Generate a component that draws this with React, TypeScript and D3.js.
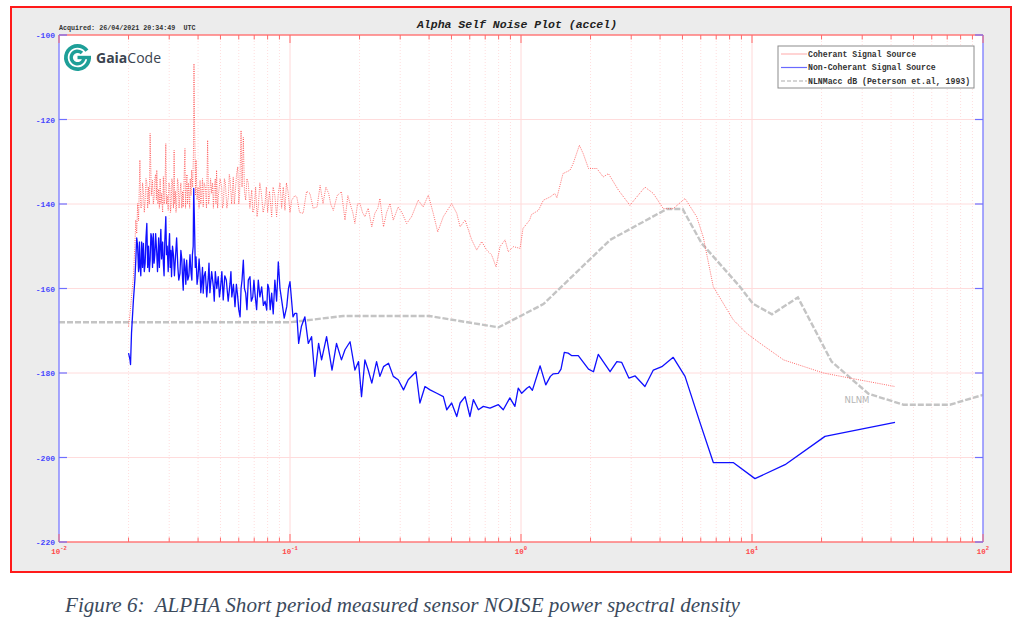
import React, { useEffect, useRef } from 'react';
import * as d3 from 'd3';

// frequency (Hz), level (dB)
const coherent: [number, number][] = [
    [0.0200, -169.0], [0.0203, -165.9], [0.0206, -162.0], [0.0210, -157.2], [0.0213, -150.0],
    [0.0215, -143.8], [0.0217, -147.0], [0.0219, -139.9], [0.0221, -144.0], [0.0224, -129.6],
    [0.0226, -141.0], [0.0228, -140.7], [0.0230, -135.0], [0.0232, -137.0], [0.0234, -142.0],
    [0.0236, -139.1], [0.0238, -134.0], [0.0240, -135.0], [0.0242, -141.0], [0.0244, -136.0],
    [0.0246, -140.0], [0.0248, -123.3], [0.0251, -138.0], [0.0254, -134.4], [0.0256, -140.0],
    [0.0258, -138.5], [0.0260, -134.0], [0.0262, -133.0], [0.0264, -139.0], [0.0265, -132.0],
    [0.0268, -140.0], [0.0270, -136.5], [0.0272, -141.0], [0.0274, -134.0], [0.0276, -140.0],
    [0.0278, -137.5], [0.0281, -142.0], [0.0283, -133.5], [0.0285, -140.0], [0.0287, -139.0],
    [0.0290, -125.7], [0.0292, -140.0], [0.0294, -138.0], [0.0297, -141.5], [0.0299, -135.0],
    [0.0302, -136.0], [0.0304, -142.0], [0.0306, -140.0], [0.0308, -134.0], [0.0310, -135.0],
    [0.0313, -141.0], [0.0315, -127.3], [0.0317, -140.0], [0.0319, -137.0], [0.0321, -142.0],
    [0.0323, -139.9], [0.0326, -134.0], [0.0328, -135.0], [0.0331, -141.0], [0.0334, -137.5],
    [0.0337, -135.0], [0.0340, -141.0], [0.0343, -137.0], [0.0345, -140.7], [0.0351, -126.9],
    [0.0353, -141.0], [0.0355, -137.0], [0.0358, -133.0], [0.0360, -140.0], [0.0363, -135.0],
    [0.0365, -137.5], [0.0368, -141.0], [0.0370, -134.0], [0.0373, -138.0], [0.0375, -132.0],
    [0.0379, -136.0], [0.0382, -128.0], [0.0384, -106.8], [0.0386, -120.0], [0.0388, -128.0],
    [0.0390, -138.0], [0.0392, -129.6], [0.0396, -139.0], [0.0400, -136.0], [0.0404, -141.0],
    [0.0408, -134.4], [0.0411, -140.0], [0.0414, -138.0], [0.0418, -134.0], [0.0421, -140.7],
    [0.0425, -135.0], [0.0430, -136.0], [0.0435, -141.0], [0.0440, -124.9], [0.0444, -140.0],
    [0.0449, -138.0], [0.0453, -134.0], [0.0458, -137.5], [0.0462, -135.0], [0.0466, -141.0],
    [0.0470, -136.0], [0.0475, -134.0], [0.0478, -140.0], [0.0481, -132.0], [0.0486, -141.0],
    [0.0490, -138.0], [0.0498, -134.0], [0.0506, -136.0], [0.0510, -141.0], [0.0515, -140.0],
    [0.0520, -134.0], [0.0525, -135.0], [0.0533, -141.0], [0.0541, -138.3], [0.0546, -133.0],
    [0.0550, -134.0], [0.0559, -140.0], [0.0568, -133.6], [0.0574, -140.0], [0.0580, -137.0],
    [0.0587, -133.0], [0.0594, -131.2], [0.0600, -140.0], [0.0605, -138.0], [0.0614, -122.6],
    [0.0620, -136.0], [0.0628, -124.2], [0.0635, -137.0], [0.0643, -139.1], [0.0651, -134.0],
    [0.0660, -135.0], [0.0670, -141.0], [0.0683, -136.7], [0.0690, -142.0], [0.0700, -141.0],
    [0.0710, -136.0], [0.0720, -143.0], [0.0729, -140.7], [0.0740, -135.0], [0.0750, -137.0],
    [0.0765, -142.0], [0.0780, -139.9], [0.0790, -136.0], [0.0800, -142.0], [0.0815, -137.0],
    [0.0833, -143.0], [0.0845, -136.0], [0.0860, -138.0], [0.0875, -143.0], [0.0890, -137.5],
    [0.0905, -135.0], [0.0920, -141.0], [0.0935, -136.0], [0.0951, -141.5], [0.0965, -135.0],
    [0.0980, -137.0], [0.1000, -142.0], [0.1017, -139.1],
    [0.105, -138.0], [0.107, -138.3], [0.110, -142.0], [0.114, -142.2], [0.118, -137.0],
    [0.122, -137.5], [0.126, -141.0], [0.131, -140.7], [0.135, -135.6], [0.139, -139.9],
    [0.143, -136.0], [0.147, -137.5], [0.150, -140.0], [0.154, -141.5], [0.160, -138.0],
    [0.167, -137.1], [0.173, -143.8], [0.178, -138.0], [0.182, -139.9], [0.187, -142.0],
    [0.191, -144.6], [0.196, -140.0], [0.201, -139.9], [0.206, -142.0], [0.211, -143.0],
    [0.218, -141.0], [0.226, -145.4], [0.233, -142.2], [0.240, -141.0], [0.245, -138.7],
    [0.254, -145.4], [0.262, -142.0], [0.271, -139.9], [0.280, -143.8], [0.294, -140.7],
    [0.305, -142.0], [0.320, -144.6], [0.336, -143.0], [0.359, -139.1], [0.377, -140.7],
    [0.397, -137.9], [0.417, -142.2], [0.436, -146.6], [0.461, -143.0], [0.501, -139.9],
    [0.527, -142.2], [0.545, -145.4], [0.573, -143.8], [0.612, -148.5], [0.643, -150.9],
    [0.676, -148.9], [0.710, -150.9], [0.747, -152.1], [0.780, -154.9], [0.811, -150.1],
    [0.853, -148.5], [0.881, -151.3], [0.927, -150.1], [0.991, -150.5], [1.02, -145.8],
    [1.09, -143.8], [1.11, -142.5], [1.19, -141.5], [1.25, -139.1], [1.34, -138.3],
    [1.40, -137.5], [1.43, -138.5], [1.52, -132.8], [1.63, -132.0], [1.68, -130.5],
    [1.79, -126.1], [1.86, -128.1], [1.96, -131.6], [2.13, -131.6], [2.27, -133.6],
    [2.39, -132.8], [2.64, -136.7], [2.96, -140.3], [3.44, -136.0], [3.74, -137.5],
    [4.13, -141.1], [4.56, -141.1], [5.13, -138.7], [5.76, -143.0], [6.15, -147.8],
    [6.80, -159.6], [8.29, -167.4], [9.48, -170.6], [10.8, -172.9], [13.7, -176.9],
    [20.4, -180.0], [26.5, -181.2], [41.6, -183.2]
];

const nonCoherent: [number, number][] = [
    [0.0200, -175.3], [0.0203, -176.9], [0.0204, -178.0], [0.0206, -170.6], [0.0210, -162.7],
    [0.0213, -158.0], [0.0215, -153.3], [0.0217, -148.0], [0.0219, -150.1], [0.0221, -156.0],
    [0.0222, -155.0], [0.0223, -149.0], [0.0224, -153.3], [0.0226, -157.0], [0.0228, -149.0],
    [0.0230, -155.0], [0.0232, -149.3], [0.0234, -156.0], [0.0236, -154.0], [0.0238, -148.0],
    [0.0240, -144.6], [0.0242, -155.0], [0.0244, -150.0], [0.0246, -156.0], [0.0248, -153.3],
    [0.0250, -147.0], [0.0252, -148.0], [0.0254, -155.0], [0.0256, -147.0], [0.0258, -154.0],
    [0.0260, -152.0], [0.0262, -147.0], [0.0265, -151.7], [0.0267, -156.0], [0.0270, -148.0],
    [0.0272, -155.0], [0.0274, -150.1], [0.0276, -146.0], [0.0278, -153.0], [0.0281, -149.0],
    [0.0283, -154.1], [0.0285, -157.0], [0.0287, -149.0], [0.0290, -143.0], [0.0292, -152.0],
    [0.0294, -150.0], [0.0297, -156.0], [0.0299, -150.1], [0.0301, -147.0], [0.0303, -155.0],
    [0.0305, -151.0], [0.0307, -157.2], [0.0310, -150.0], [0.0313, -152.0], [0.0316, -157.0],
    [0.0320, -151.7], [0.0323, -148.0], [0.0327, -155.0], [0.0330, -158.0], [0.0334, -156.4],
    [0.0337, -151.0], [0.0340, -153.0], [0.0343, -158.0], [0.0345, -160.4], [0.0348, -153.0],
    [0.0351, -155.0], [0.0354, -159.0], [0.0357, -153.3], [0.0361, -158.0], [0.0365, -157.0],
    [0.0369, -152.0], [0.0373, -156.4], [0.0376, -158.0], [0.0378, -152.0], [0.0381, -150.0],
    [0.0383, -136.3], [0.0385, -142.0], [0.0387, -148.0], [0.0389, -155.0], [0.0392, -152.5],
    [0.0396, -159.0], [0.0400, -157.0], [0.0404, -153.0], [0.0408, -156.4], [0.0411, -161.0],
    [0.0414, -159.0], [0.0418, -155.0], [0.0421, -161.1], [0.0425, -157.0], [0.0430, -156.0],
    [0.0436, -162.0], [0.0443, -157.2], [0.0446, -154.0], [0.0450, -161.0], [0.0458, -156.0],
    [0.0466, -159.6], [0.0470, -163.0], [0.0475, -156.0], [0.0482, -160.0], [0.0489, -157.2],
    [0.0495, -162.0], [0.0500, -160.0], [0.0507, -156.0], [0.0514, -162.7], [0.0522, -157.0],
    [0.0530, -158.0], [0.0540, -163.0], [0.0550, -158.8], [0.0555, -156.0], [0.0560, -162.0],
    [0.0569, -159.0], [0.0578, -164.3], [0.0586, -159.0], [0.0594, -162.0], [0.0600, -165.0],
    [0.0608, -166.7], [0.0614, -160.0], [0.0620, -158.0], [0.0628, -153.3], [0.0635, -160.0],
    [0.0643, -161.1], [0.0651, -165.0], [0.0660, -158.0], [0.0671, -157.2], [0.0680, -163.0],
    [0.0690, -162.0], [0.0698, -158.0], [0.0705, -161.1], [0.0717, -165.0], [0.0729, -158.0],
    [0.0741, -162.0], [0.0754, -159.6], [0.0767, -164.0], [0.0780, -163.0], [0.0793, -165.1],
    [0.0801, -159.0], [0.0810, -160.0], [0.0821, -165.0], [0.0833, -161.1], [0.0846, -166.0],
    [0.0860, -158.0], [0.0875, -163.0], [0.0890, -153.7], [0.0905, -160.0], [0.0920, -162.7],
    [0.0944, -167.0], [0.0968, -164.3], [0.0985, -160.0], [0.1000, -158.4],
    [0.103, -166.7], [0.105, -165.9], [0.107, -165.9], [0.109, -173.0], [0.112, -169.0],
    [0.116, -166.7], [0.120, -173.0], [0.124, -171.4], [0.128, -180.8], [0.133, -173.0],
    [0.137, -176.9], [0.144, -171.4], [0.152, -179.3], [0.159, -173.0], [0.167, -176.9],
    [0.173, -174.5], [0.182, -172.6], [0.191, -179.3], [0.198, -177.3], [0.204, -185.6],
    [0.211, -176.9], [0.218, -179.3], [0.226, -182.4], [0.237, -177.3], [0.245, -180.8],
    [0.254, -178.5], [0.267, -177.7], [0.280, -180.8], [0.294, -181.6], [0.310, -184.0],
    [0.325, -181.6], [0.351, -179.7], [0.365, -187.1], [0.384, -183.2], [0.404, -184.0],
    [0.432, -184.8], [0.461, -185.6], [0.477, -188.7], [0.501, -187.1], [0.527, -190.3],
    [0.545, -187.1], [0.573, -185.6], [0.601, -190.3], [0.622, -186.3], [0.654, -188.7],
    [0.687, -187.9], [0.734, -188.3], [0.798, -187.5], [0.838, -188.7], [0.895, -185.9],
    [0.941, -187.9], [0.973, -183.6], [1.007, -184.8], [1.06, -183.6], [1.087, -183.2],
    [1.12, -184.1], [1.21, -178.3], [1.28, -182.8], [1.34, -180.8], [1.38, -180.2],
    [1.45, -180.1], [1.49, -179.1], [1.54, -175.1], [1.60, -175.3], [1.66, -175.9],
    [1.77, -175.9], [1.96, -179.1], [2.06, -179.7], [2.16, -175.6], [2.43, -179.7],
    [2.60, -177.3], [2.73, -177.5], [2.93, -181.2], [3.12, -180.7], [3.44, -183.2],
    [3.74, -179.3], [4.07, -178.5], [4.56, -176.3], [5.13, -180.8], [5.96, -191.8],
    [6.80, -201.2], [8.29, -201.2], [10.3, -205.0], [13.9, -201.7], [20.7, -195.0],
    [41.6, -191.7]
];

const nlnm: [number, number][] = [
    [0.01, -168.0], [0.1, -168.0], [0.17, -166.5], [0.4, -166.5], [0.8, -169.2],
    [1.25, -163.7], [2.43, -148.5], [4.27, -141.2], [5.01, -141.2], [6.05, -149.3],
    [8.87, -159.6], [10.1, -163.6], [12.2, -166.1], [15.8, -162.1], [22.1, -177.3],
    [31.9, -184.9], [45.2, -187.5], [71.9, -187.5], [100, -185.2]
];

const yTicks = [-100, -120, -140, -160, -180, -200, -220];
const xDecades = [-2, -1, 0, 1, 2];
const legendLabels = [
    'Coherant Signal Source',
    'Non-Coherant Signal Source',
    'NLNMacc dB (Peterson et.al, 1993)'
];

const MONO = '"Liberation Mono", "DejaVu Sans Mono", monospace';

export default function App() {
    const ref = useRef<SVGSVGElement>(null);

    useEffect(() => {
        const svg = d3.select(ref.current);
        svg.selectAll('*').remove();

        const left = 59, right = 983, top = 35, bottom = 542;
        const x = d3.scaleLog().domain([0.01, 100]).range([left, right]);
        const y = d3.scaleLinear().domain([-220, -100]).range([bottom, top]);

        svg.append('rect').attr('width', 1024).attr('height', 620).attr('fill', '#fff');

        // figure frame
        svg.append('rect')
            .attr('x', 11).attr('y', 7).attr('width', 1000).attr('height', 565)
            .attr('fill', '#ececec').attr('stroke', '#ff1a1a').attr('stroke-width', 2);

        svg.append('rect')
            .attr('x', left).attr('y', top).attr('width', right - left).attr('height', bottom - top)
            .attr('fill', '#fff');

        svg.append('clipPath').attr('id', 'plotClip')
            .append('rect')
            .attr('x', left).attr('y', top).attr('width', right - left).attr('height', bottom - top);

        const xTicks = x.ticks();
        const isMajor = (t: number) => Math.abs(Math.log10(t) - Math.round(Math.log10(t))) < 1e-6;

        // grid
        const grid = svg.append('g');
        grid.selectAll('.vgrid')
            .data(xTicks.filter(t => t > 0.01 && t < 100))
            .enter().append('line')
            .attr('x1', d => x(d)).attr('x2', d => x(d))
            .attr('y1', top).attr('y2', bottom)
            .attr('stroke', d => isMajor(d) ? '#ffd8d8' : '#ffdede')
            .attr('stroke-dasharray', d => isMajor(d) ? null : '1,2')
            .attr('stroke-width', 1);
        grid.selectAll('.hgrid')
            .data(yTicks.filter(t => t > -220 && t < -100))
            .enter().append('line')
            .attr('x1', left).attr('x2', right)
            .attr('y1', d => y(d)).attr('y2', d => y(d))
            .attr('stroke', '#ffdcdc').attr('stroke-width', 1);

        // series
        const line = d3.line<[number, number]>()
            .x(d => x(d[0]))
            .y(d => y(d[1]));

        const plot = svg.append('g').attr('clip-path', 'url(#plotClip)');

        plot.append('path')
            .datum(nlnm)
            .attr('d', line)
            .attr('fill', 'none')
            .attr('stroke', '#c4c4c4')
            .attr('stroke-width', 2.4)
            .attr('stroke-dasharray', '6,2');

        plot.append('path')
            .datum(coherent)
            .attr('d', line)
            .attr('fill', 'none')
            .attr('stroke', '#ff3b3b')
            .attr('stroke-opacity', 0.75)
            .attr('stroke-width', 1)
            .attr('stroke-dasharray', '1,1.2');

        plot.append('path')
            .datum(nonCoherent)
            .attr('d', line)
            .attr('fill', 'none')
            .attr('stroke', '#1010ff')
            .attr('stroke-width', 1.3)
            .attr('stroke-linejoin', 'round');

        svg.append('text')
            .attr('x', 857).attr('y', 403)
            .attr('text-anchor', 'middle')
            .attr('font-family', '"DejaVu Sans", sans-serif')
            .attr('font-size', 8.5)
            .attr('fill', '#b5b5b5')
            .text('NLNM');

        // axes
        const axes = svg.append('g');
        axes.append('line').attr('x1', left).attr('x2', right).attr('y1', bottom).attr('y2', bottom)
            .attr('stroke', '#ff7a7a').attr('stroke-width', 1.5);
        axes.append('line').attr('x1', left).attr('x2', right).attr('y1', top).attr('y2', top)
            .attr('stroke', '#ff7a7a').attr('stroke-width', 1.5);
        axes.append('line').attr('x1', left).attr('x2', left).attr('y1', top).attr('y2', bottom)
            .attr('stroke', '#8a8aff').attr('stroke-width', 1.5);
        axes.append('line').attr('x1', right).attr('x2', right).attr('y1', top).attr('y2', bottom)
            .attr('stroke', '#8a8aff').attr('stroke-width', 1.5);

        axes.selectAll('.xtickB')
            .data(xTicks)
            .enter().append('line')
            .attr('x1', d => x(d)).attr('x2', d => x(d))
            .attr('y1', bottom).attr('y2', d => bottom - (isMajor(d) ? 8 : 4.5))
            .attr('stroke', '#ff6a6a').attr('stroke-width', 1);
        axes.selectAll('.xtickT')
            .data(xTicks)
            .enter().append('line')
            .attr('x1', d => x(d)).attr('x2', d => x(d))
            .attr('y1', top).attr('y2', d => top + (isMajor(d) ? 8 : 4.5))
            .attr('stroke', '#ff6a6a').attr('stroke-width', 1);

        axes.selectAll('.ytickL')
            .data(yTicks)
            .enter().append('line')
            .attr('x1', left).attr('x2', left + 8)
            .attr('y1', d => y(d)).attr('y2', d => y(d))
            .attr('stroke', '#7070ff').attr('stroke-width', 1.2);
        axes.selectAll('.ytickR')
            .data(yTicks)
            .enter().append('line')
            .attr('x1', right).attr('x2', right - 8)
            .attr('y1', d => y(d)).attr('y2', d => y(d))
            .attr('stroke', '#7070ff').attr('stroke-width', 1.2);

        axes.selectAll('.ylab')
            .data(yTicks)
            .enter().append('text')
            .attr('x', left - 4).attr('y', d => y(d) + 3)
            .attr('text-anchor', 'end')
            .attr('font-family', MONO)
            .attr('font-weight', 'bold')
            .attr('font-size', 8)
            .attr('fill', '#4848ff')
            .text(d => String(d));

        const xl = axes.selectAll('.xlab')
            .data(xDecades)
            .enter().append('text')
            .attr('x', d => x(Math.pow(10, d)))
            .attr('y', bottom + 12)
            .attr('text-anchor', 'middle')
            .attr('font-family', MONO)
            .attr('font-weight', 'bold')
            .attr('font-size', 7.5)
            .attr('fill', '#ff4a4a');
        xl.append('tspan').text('10');
        xl.append('tspan')
            .attr('dy', -4)
            .attr('font-size', 5.5)
            .text(d => String(d));

        // titles
        svg.append('text')
            .attr('x', 517).attr('y', 28)
            .attr('text-anchor', 'middle')
            .attr('font-family', MONO)
            .attr('font-weight', 'bold')
            .attr('font-style', 'italic')
            .attr('font-size', 11.5)
            .attr('fill', '#222')
            .text('Alpha Self Noise Plot (accel)');

        svg.append('text')
            .attr('x', 59).attr('y', 30)
            .attr('font-family', MONO)
            .attr('font-weight', 'bold')
            .attr('font-size', 6.7)
            .attr('fill', '#333')
            .style('white-space', 'pre')
            .text('Acquired: 26/04/2021 20:34:49  UTC');

        // legend
        const lg = svg.append('g');
        lg.append('rect')
            .attr('x', 778).attr('y', 46).attr('width', 196).attr('height', 42)
            .attr('fill', '#fff').attr('stroke', '#8c8c8c').attr('stroke-width', 1);
        const legendStyles = [
            { stroke: '#ffb8b8', dash: null, width: 1.2 },
            { stroke: '#6a6aff', dash: null, width: 1.2 },
            { stroke: '#c8c8c8', dash: '4,2', width: 1.6 }
        ];
        legendLabels.forEach((label, i) => {
            const ly = 54 + i * 13.5;
            lg.append('line')
                .attr('x1', 781).attr('x2', 807).attr('y1', ly).attr('y2', ly)
                .attr('stroke', legendStyles[i].stroke)
                .attr('stroke-width', legendStyles[i].width)
                .attr('stroke-dasharray', legendStyles[i].dash);
            lg.append('text')
                .attr('x', 808).attr('y', ly + 2.8)
                .attr('font-family', MONO)
                .attr('font-weight', 'bold')
                .attr('font-size', 8.2)
                .attr('fill', '#333')
                .text(label);
        });

        // GaiaCode logo
        const logo = svg.append('g').attr('transform', 'translate(77.5,57.5)');
        const arc = d3.arc();
        logo.append('path')
            .attr('d', arc({ innerRadius: 9.8, outerRadius: 13.5, startAngle: Math.PI * 0.5, endAngle: Math.PI * 2.3 }) as string)
            .attr('fill', '#1e9f98');
        logo.append('path')
            .attr('d', arc({ innerRadius: 4.6, outerRadius: 8, startAngle: Math.PI * 0.5, endAngle: Math.PI * 2.25 }) as string)
            .attr('fill', '#1e9f98');
        logo.append('rect')
            .attr('x', 0).attr('y', -1.7).attr('width', 13.5).attr('height', 3.4)
            .attr('fill', '#1e9f98');
        const brand = svg.append('text')
            .attr('x', 96).attr('y', 63)
            .attr('font-family', '"Open Sans", sans-serif')
            .attr('font-size', 14)
            .attr('fill', '#3b4450');
        brand.append('tspan').attr('font-weight', 'bold').text('Gaia');
        brand.append('tspan').text('Code');

        // caption
        svg.append('text')
            .attr('x', 65).attr('y', 612)
            .attr('font-family', '"Liberation Serif", serif')
            .attr('font-style', 'italic')
            .attr('font-size', 20.5)
            .attr('fill', '#3b4a5c')
            .attr('textLength', 675)
            .attr('lengthAdjust', 'spacingAndGlyphs')
            .style('white-space', 'pre')
            .text('Figure 6:  ALPHA Short period measured sensor NOISE power spectral density');
    }, []);

    return (
        <svg
            ref={ref}
            width={1024}
            height={620}
            style={{ position: 'absolute', left: 0, top: 0 }}
        />
    );
}
